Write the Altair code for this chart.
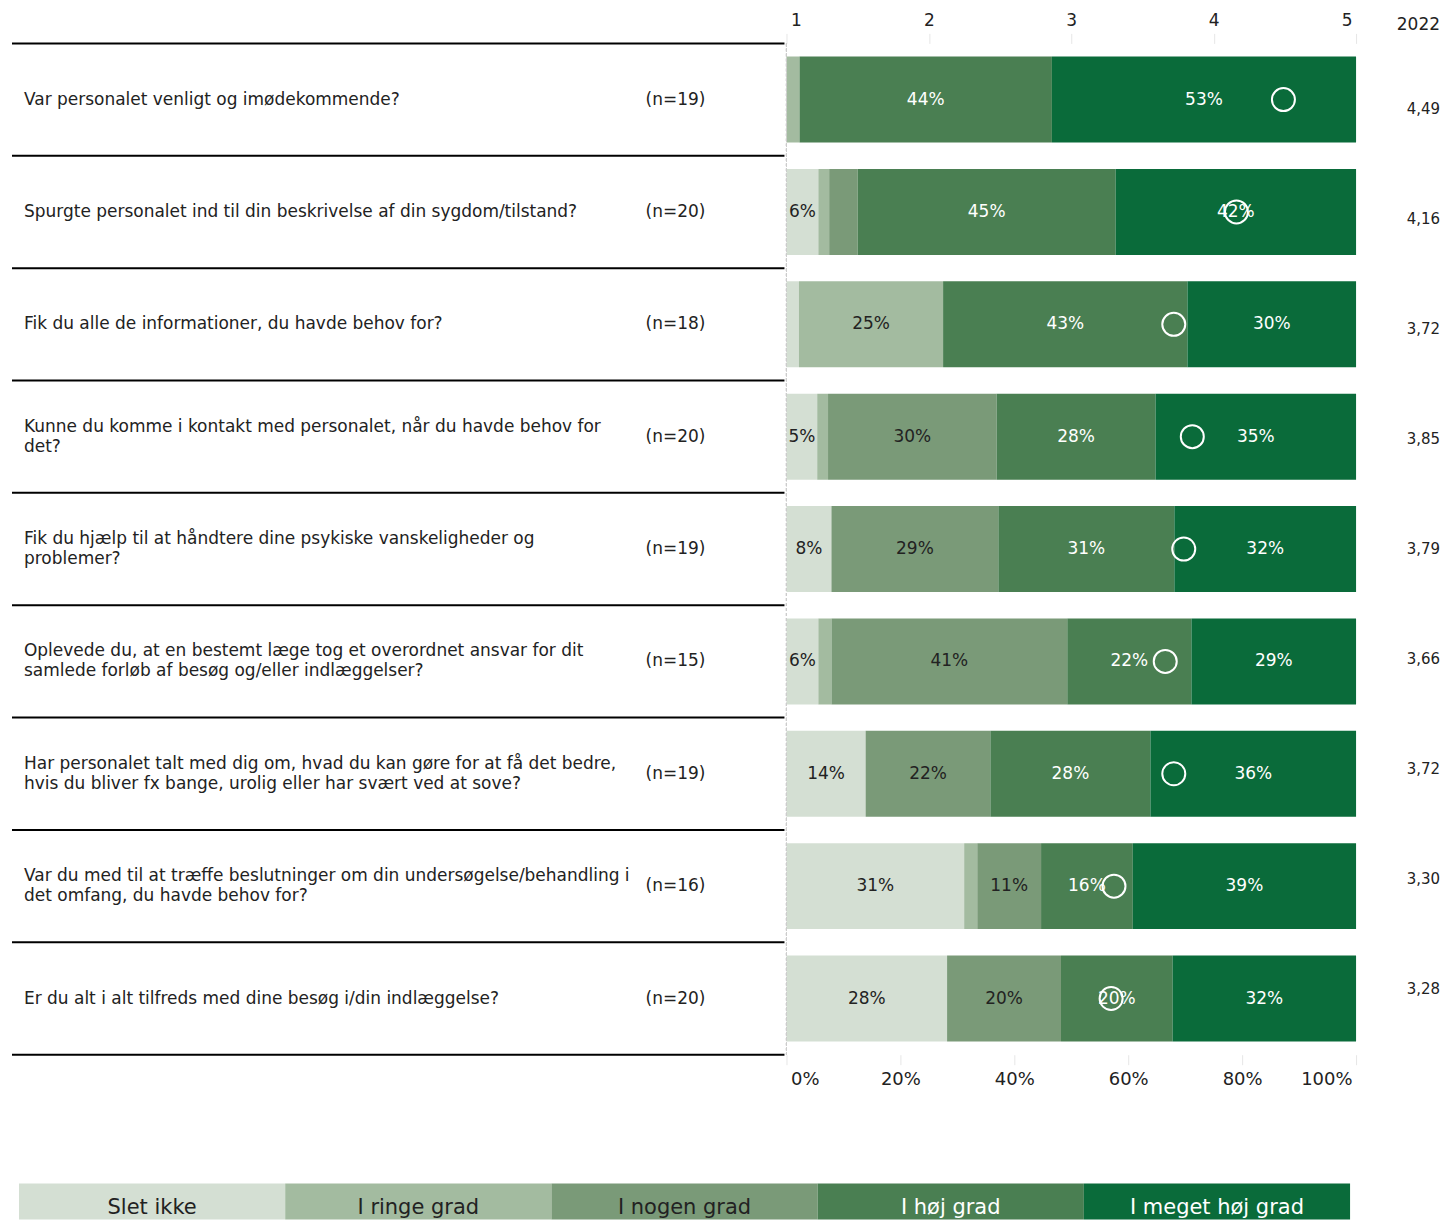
import altair as alt
import pandas as pd

FONT = "DejaVu Sans"
DARK = "#222222"

questions = [
    "Var personalet venligt og imødekommende?",
    "Spurgte personalet ind til din beskrivelse af din sygdom/tilstand?",
    "Fik du alle de informationer, du havde behov for?",
    "Kunne du komme i kontakt med personalet, når du havde behov for\ndet?",
    "Fik du hjælp til at håndtere dine psykiske vanskeligheder og\nproblemer?",
    "Oplevede du, at en bestemt læge tog et overordnet ansvar for dit\nsamlede forløb af besøg og/eller indlæggelser?",
    "Har personalet talt med dig om, hvad du kan gøre for at få det bedre,\nhvis du bliver fx bange, urolig eller har svært ved at sove?",
    "Var du med til at træffe beslutninger om din undersøgelse/behandling i\ndet omfang, du havde behov for?",
    "Er du alt i alt tilfreds med dine besøg i/din indlæggelse?",
]
n_labels = ["(n=19)", "(n=20)", "(n=18)", "(n=20)", "(n=19)", "(n=15)", "(n=19)", "(n=16)", "(n=20)"]
means = [4.49, 4.16, 3.72, 3.85, 3.79, 3.66, 3.72, 3.30, 3.28]
means_2022 = ["4,49", "4,16", "3,72", "3,85", "3,79", "3,66", "3,72", "3,30", "3,28"]

categories = ["Slet ikke", "I ringe grad", "I nogen grad", "I høj grad", "I meget høj grad"]
colors = ["#d4dfd3", "#a3bba0", "#7a9a78", "#4a7f52", "#0a6b3a"]

slet_ikke = [0, 5.6, 2.2, 5.4, 7.9, 5.6, 13.9, 31.2, 28.2]
i_ringe = [2.3, 1.9, 25.3, 1.9, 0, 2.3, 0, 2.3, 0]
i_nogen = [0, 5.0, 0, 29.6, 29.3, 41.4, 21.9, 11.2, 20.0]
i_hoj = [44.3, 45.3, 42.9, 27.9, 30.9, 21.8, 28.1, 16.1, 19.6]
i_meget = [53.4, 42.2, 29.6, 35.2, 31.9, 28.9, 36.1, 39.2, 32.2]

top_ticks = [1, 2, 3, 4, 5]
bottom_ticks = [0, 20, 40, 60, 80, 100]

rows = list(range(len(questions)))
recs = []
for r in rows:
    for k, arr in enumerate([slet_ikke, i_ringe, i_nogen, i_hoj, i_meget]):
        recs.append({"r": r, "k": k, "cat": categories[k], "pct": arr[r]})
bars_df = pd.DataFrame(recs)
mean_df = pd.DataFrame({"r": rows, "mean": means})
left_df = pd.DataFrame({
    "r": rows, "q": questions, "n": n_labels,
    "multi": ["\n" in q for q in questions],
})
right_df = pd.DataFrame({"r": rows, "v": means_2022})
leg_df = pd.DataFrame({"cat": categories, "k": list(range(5))})

H = 1012
row_scale = alt.Scale(paddingInner=0, paddingOuter=0)
ROW_Y = alt.Y("r:O", axis=None, scale=row_scale)

# ---------- middle: stacked bars ----------
base = alt.Chart(bars_df).transform_stack(
    stack="pct", as_=["x0", "x1"], groupby=["r"], sort=[alt.SortField("k", order="ascending")]
).transform_calculate(mid="(datum.x0 + datum.x1) / 2")

bars = base.mark_bar(height=alt.RelativeBandSize(0.765)).encode(
    y=ROW_Y,
    x=alt.X(
        "x0:Q",
        scale=alt.Scale(domain=[0, 100], nice=False, zero=True),
        axis=alt.Axis(
            orient="bottom", values=bottom_ticks, labelExpr="datum.value + '%'",
            domain=False, grid=False, ticks=True, tickSize=10, tickColor="#e6e6e6",
            labelFlush=True, labelFlushOffset=-4, labelPadding=6,
            labelFontSize=18, labelFont=FONT, labelColor=DARK, title=None,
        ),
    ),
    x2="x1:Q",
    color=alt.Color("cat:N", scale=alt.Scale(domain=categories, range=colors), legend=None),
)

labels = base.transform_filter("datum.pct >= 5.2").transform_calculate(
    lbl="format(datum.pct, '.0f') + '%'"
).mark_text(font=FONT, fontSize=17, baseline="middle").encode(
    y=ROW_Y,
    x=alt.X("mid:Q", scale=alt.Scale(domain=[0, 100], nice=False), axis=None),
    text="lbl:N",
    color=alt.condition("datum.k >= 3", alt.value("white"), alt.value(DARK)),
)

zero_line = alt.Chart(mean_df).mark_rule(color="#cccccc", strokeDash=[3, 2], strokeWidth=1).encode(
    x=alt.value(0)
)

circles = alt.Chart(mean_df).mark_point(
    shape="circle", size=530, filled=False, color="white", strokeWidth=2, opacity=1
).encode(
    y=ROW_Y,
    x=alt.X(
        "mean:Q",
        scale=alt.Scale(domain=[1, 5], nice=False, zero=False),
        axis=alt.Axis(
            orient="top", values=top_ticks, format="d",
            domain=False, grid=False, ticks=True, tickSize=10, tickColor="#e6e6e6",
            labelFlush=True, labelFlushOffset=-4, labelPadding=4,
            labelFontSize=17, labelFont=FONT, labelColor=DARK, title=None,
        ),
    ),
)

middle = alt.layer(bars, labels, zero_line, circles).resolve_scale(x="independent").properties(
    width=570, height=H
)

# ---------- left: questions ----------
left_base = alt.Chart(left_df)
rule_top = left_base.mark_rule(color="black", strokeWidth=2).encode(
    y=alt.Y("r:O", bandPosition=0, axis=None, scale=row_scale)
)
rule_bot = left_base.transform_filter(f"datum.r == {rows[-1]}").mark_rule(color="black", strokeWidth=2).encode(
    y=alt.Y("r:O", bandPosition=1, axis=None, scale=row_scale)
)
q_single = left_base.transform_filter("!datum.multi").mark_text(
    align="left", baseline="middle", font=FONT, fontSize=17, color=DARK
).encode(y=ROW_Y, x=alt.value(12), text="q:N")
q_multi = left_base.transform_filter("datum.multi").mark_text(
    align="left", baseline="middle", font=FONT, fontSize=17, color=DARK,
    lineBreak="\n", lineHeight=20, dy=-10
).encode(y=ROW_Y, x=alt.value(12), text="q:N")
n_text = left_base.mark_text(
    align="left", baseline="middle", font=FONT, fontSize=17, color=DARK
).encode(y=ROW_Y, x=alt.value(634), text="n:N")
left = alt.layer(rule_top, rule_bot, q_single, q_multi, n_text).properties(width=773, height=H)

# ---------- right: 2022 values ----------
right = alt.Chart(right_df).mark_text(
    align="right", baseline="middle", font=FONT, fontSize=15, color=DARK
).encode(
    y=alt.Y("r:O", axis=None, scale=alt.Scale(range=[11, 1001], paddingInner=0, paddingOuter=0)),
    x=alt.value(83),
    text="v:N",
).properties(
    width=83, height=H,
    title=alt.TitleParams("2022", anchor="end", fontSize=17, fontWeight="normal", font=FONT, color=DARK, offset=9),
)

# ---------- legend ----------
leg_x = alt.X("cat:N", sort=categories, axis=None,
              scale=alt.Scale(range=[7, 1339], paddingInner=0, paddingOuter=0))
leg_rect = alt.Chart(leg_df).mark_rect().encode(
    x=leg_x,
    color=alt.Color("cat:N", scale=alt.Scale(domain=categories, range=colors), legend=None),
)
leg_text = alt.Chart(leg_df).mark_text(font=FONT, fontSize=21, baseline="middle", dy=6).encode(
    x=leg_x,
    text="cat:N",
    color=alt.condition("datum.k >= 3", alt.value("white"), alt.value(DARK)),
)
legend = alt.layer(leg_rect, leg_text).properties(width=1340, height=36)

chart = alt.vconcat(
    alt.hconcat(left, middle, right, spacing=0),
    legend,
    spacing=95,
).properties(
    padding={"left": 3, "top": 3, "right": 0, "bottom": 0}
).configure_view(stroke=None)

chart.save("out.html", embed_options={"renderer": "svg", "actions": False})
